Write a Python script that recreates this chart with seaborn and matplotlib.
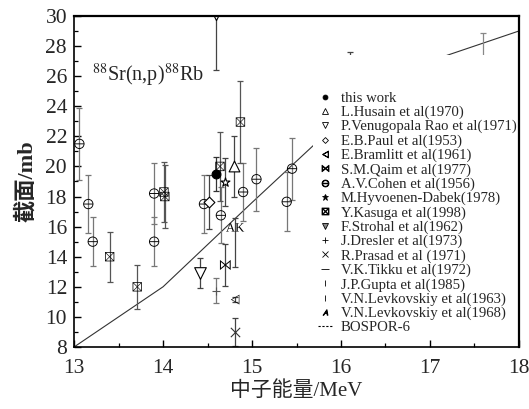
import numpy as np
import matplotlib
matplotlib.use('Agg')
import matplotlib.pyplot as plt
import seaborn as sns
from matplotlib.lines import Line2D
from matplotlib.patches import Rectangle
from matplotlib.ticker import MultipleLocator

# ---- data (energy MeV, cross section mb, error mb)
this_work_x = [14.6];  this_work_y = [19.5];  this_work_e = [1.1]
husain_x = [14.8];  husain_y = [20.0];  husain_e = [2.0]
venugopala_x = [14.41];  venugopala_y = [12.9];  venugopala_e = [1.0]
paul_x = [14.52];  paul_y = [17.65];  paul_e = [1.8]
bramlitt_x = [14.81];  bramlitt_y = [11.15];  bramlitt_e = [0.15]
qaim_x = [14.7];  qaim_y = [13.45];  qaim_e = [1.4]
cohen_x = [13.06, 13.16, 13.21, 13.9, 13.9, 14.46, 14.65, 14.9, 15.05, 15.45, 15.39]
cohen_y = [21.5, 17.5, 15.0, 18.2, 15.0, 17.5, 16.75, 18.3, 19.15, 19.85, 17.65]
cohen_e = [2.4, 1.9, 1.65, 2.0, 1.65, 1.9, 1.85, 1.95, 2.1, 2.05, 1.95]
hyvoenen_x = [14.7];  hyvoenen_y = [18.95];  hyvoenen_e = [1.6]
kasuga_x = [13.4, 13.71, 14.01, 14.02, 14.64, 14.87]
kasuga_y = [14.0, 12.0, 18.3, 18.0, 20.0, 22.95]
kasuga_e = [1.65, 1.45, 2.0, 2.1, 2.3, 2.75]
strohal_x = [14.6];  strohal_y = [29.9];  strohal_e = [3.5]
dresler_x = [14.6];  dresler_y = [11.75];  dresler_e = [0.85]
prasad_x = [14.81];  prasad_y = [9.0];  prasad_e = [0.95]
tikku_x = [16.1];  tikku_y = [25.5];  tikku_e = [2.1]
gupta_x = [17.6];  gupta_y = [26.5];  gupta_e = [2.35]
levk63_x = [16.5];  levk63_y = [22.0];  levk63_e = [1.5]
levk68_x = [14.81];  levk68_y = [15.95];  levk68_elo = [2.65];  levk68_ehi = [0.6]
bospor_x = [13, 14, 15, 16, 17, 18]
bospor_y = [8.0, 12.0, 17.6, 23.1, 27.0, 29.0]

sns.set_theme(style='white')
plt.rcParams['font.family'] = ['Liberation Serif', 'Noto Sans CJK SC', 'DejaVu Sans']
plt.rcParams['mathtext.fontset'] = 'stix'

fig = plt.figure(figsize=(5.29, 4.09), dpi=100)
ax = fig.add_axes([0.140, 0.1516, 0.841, 0.8094])


def series(x, y, err, marker, s, ecol='#444444', fc='white', ec='black', lw=0.8):
    ax.errorbar(x, y, yerr=err, fmt='none', ecolor=ecol, elinewidth=0.9,
                capsize=2.5, capthick=0.9, zorder=2)
    sns.scatterplot(x=x, y=y, marker=marker, s=s, color=fc, edgecolor=ec,
                    linewidth=lw, ax=ax, zorder=3, legend=False)


sns.lineplot(x=bospor_x, y=bospor_y, color='#333333', linewidth=0.8, ax=ax, zorder=1)

series(cohen_x, cohen_y, cohen_e, r'$\ominus$', 55, ecol='#777777', fc='black', ec='none', lw=0)
series(kasuga_x, kasuga_y, kasuga_e, r'$\boxtimes$', 45, ecol='#555555', fc='black', ec='none', lw=0)
series(this_work_x, this_work_y, this_work_e, 'o', 40, ecol='#333333', fc='black')
series(husain_x, husain_y, husain_e, '^', 60)
series(venugopala_x, venugopala_y, venugopala_e, 'v', 70)
series(paul_x, paul_y, paul_e, 'D', 30)
series(bramlitt_x, bramlitt_y, bramlitt_e, r'$\lhd$', 50, fc='black', ec='none', lw=0)
series(qaim_x, qaim_y, qaim_e, r'$\bowtie$', 60, fc='black', ec='none', lw=0)
series(hyvoenen_x, hyvoenen_y, hyvoenen_e, '*', 45)
series(strohal_x, strohal_y, strohal_e, 'v', 20)
series(dresler_x, dresler_y, dresler_e, '+', 30, ecol='#777777', fc='#555555', ec='#555555')
series(prasad_x, prasad_y, prasad_e, 'x', 45, fc='#333333', ec='#333333')
series(tikku_x, tikku_y, tikku_e, '_', 20, fc='black', ec='black')
series(gupta_x, gupta_y, gupta_e, '|', 20, ecol='#888888', fc='black', ec='black')
series(levk63_x, levk63_y, levk63_e, '|', 15, fc='black', ec='black')
series(levk68_x, levk68_y, [levk68_elo, levk68_ehi], r'$\mathregular{AK}$', 170,
       fc='black', ec='none', lw=0)

ax.set_xlim(13, 18)
ax.set_ylim(8, 30)
ax.xaxis.set_major_locator(MultipleLocator(1))
ax.xaxis.set_minor_locator(MultipleLocator(0.5))
ax.yaxis.set_major_locator(MultipleLocator(2))
ax.yaxis.set_minor_locator(MultipleLocator(1))
ax.tick_params(which='both', direction='in', top=False, right=False,
               bottom=True, left=True, color='black', labelsize=15.5)
ax.tick_params(axis='x', pad=9)
ax.tick_params(axis='y', pad=5)
ax.tick_params(which='major', length=5, width=1.0)
ax.tick_params(which='minor', length=3, width=0.9)
for side in ['top', 'right']:
    ax.spines[side].set_linewidth(1.6)
for side in ['left', 'bottom']:
    ax.spines[side].set_linewidth(1.2)
for sp in ax.spines.values():
    sp.set_color('black')
    sp.set_zorder(10)

ax.set_xlabel('中子能量/MeV', fontsize=15, labelpad=2)
ax.set_ylabel('截面/mb', fontsize=16, fontweight='bold', labelpad=6)

ax.text(0.04, 0.82, r'$^{88}$Sr(n,p)$^{88}$Rb', transform=ax.transAxes,
        fontsize=14.5, va='center', ha='left')

# white box behind the legend (it hides the data underneath, as in the original)
ax.add_patch(Rectangle((0.537, 0.036), 0.46, 0.846, transform=ax.transAxes,
                       facecolor='white', edgecolor='none', zorder=5))

labels = ['this work', 'L.Husain et al(1970)', 'P.Venugopala Rao et al(1971)',
          'E.B.Paul et al(1953)', 'E.Bramlitt et al(1961)', 'S.M.Qaim et al(1977)',
          'A.V.Cohen et al(1956)', 'M.Hyvoenen-Dabek(1978)', 'Y.Kasuga et al(1998)',
          'F.Strohal et al(1962)', 'J.Dresler et al(1973)', 'R.Prasad et al (1971)',
          'V.K.Tikku et al(1972)', 'J.P.Gupta et al(1985)', 'V.N.Levkovskiy et al(1963)',
          'V.N.Levkovskiy et al(1968)', 'BOSPOR-6']
hmark = [('o', 3.5, 'black'), ('^', 4, 'none'), ('v', 4, 'none'), ('D', 3, 'none'),
         (r'$\lhd$', 5, 'black'), (r'$\bowtie$', 5, 'black'), (r'$\ominus$', 5, 'black'),
         ('*', 4.5, 'black'), (r'$\boxtimes$', 5, 'black'), ('v', 4, '#888888'),
         ('+', 5, 'black'), ('x', 4, 'black'), ('_', 6, 'black'), ('|', 4, 'black'),
         ('|', 4, 'black'), (r'$\mathsf{A}$', 4, 'black')]
handles = []
for m, ms, fc in hmark:
    handles.append(Line2D([], [], linestyle='none', marker=m, markersize=ms,
                          markerfacecolor=fc, markeredgecolor='black', markeredgewidth=0.6))
handles.append(Line2D([], [], color='black', linewidth=0.8, linestyle=(0, (2, 1.5))))

leg = ax.legend(handles, labels, loc='upper left', bbox_to_anchor=(0.548, 0.772),
                frameon=False, fontsize=10.6, handlelength=1.0, handletextpad=0.55,
                labelspacing=0.06, borderpad=0, borderaxespad=0)
leg.set_zorder(6)

fig.savefig('out.png', dpi=100)
